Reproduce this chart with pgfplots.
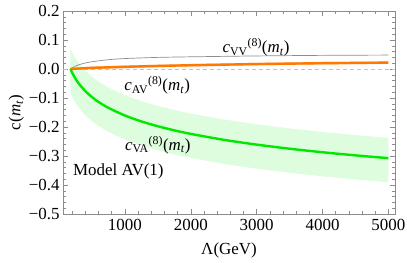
\documentclass[border=0pt]{standalone}
\usepackage{pgfplots}
\pgfplotsset{compat=1.18}
\usepgfplotslibrary{fillbetween}
\usepackage{fontspec}
\setmainfont{Liberation Serif}
\definecolor{gline}{RGB}{0,232,0}
\definecolor{gband}{RGB}{222,252,222}
\definecolor{oline}{RGB}{255,120,0}
\definecolor{oband}{RGB}{255,205,170}
\definecolor{frame}{RGB}{140,140,140}
\begin{document}
\begin{tikzpicture}[font=\fontsize{17}{20}\selectfont]
\begin{axis}[name=ax,
  scale only axis, width=332bp, height=203bp,
  xmin=60, xmax=5100, ymin=-0.5, ymax=0.2,
  axis line style={frame, line width=0.6pt},
  tick style={frame, line width=0.5pt},
  major tick length=5bp, minor tick length=2.8bp,
  tick align=inside,
  xtick={1000,2000,3000,4000,5000},
  xticklabels={1000,2000,3000,4000,5000},
  minor xtick={200,400,600,800,1200,1400,1600,1800,2200,2400,2600,2800,3200,3400,3600,3800,4200,4400,4600,4800},
  ytick={-0.5,-0.4,-0.3,-0.2,-0.1,0,0.1,0.2},
  yticklabels={−0.5,−0.4,−0.3,−0.2,−0.1,0.0,0.1,0.2},
  minor ytick={-0.48,-0.46,-0.44,-0.42,-0.38,-0.36,-0.34,-0.32,-0.28,-0.26,-0.24,-0.22,-0.18,-0.16,-0.14,-0.12,-0.08,-0.06,-0.04,-0.02,0.02,0.04,0.06,0.08,0.12,0.14,0.16,0.18},
  tick label style={font=\fontsize{17}{20}\selectfont},
  xticklabel style={yshift=-2bp},
  xlabel={Λ(GeV)},
  ylabel={c(\textit{m}\textsubscript{\textit{t}})},
  xlabel style={yshift=-5bp},
  ylabel style={yshift=-2bp},
  clip=true,
]
% green band
\addplot[name path=gup, draw=none] coordinates {
(173,0.070) (200,0.0567) (250,0.0364) (300,0.0197) (400,-0.0066) (500,-0.0270) (600,-0.0437) (750,-0.0641) (1000,-0.0904) (1250,-0.1108) (1500,-0.1275) (1750,-0.1416) (2000,-0.1538) (2500,-0.1742) (3000,-0.1908) (3500,-0.2049) (4000,-0.2171) (4500,-0.2279) (5000,-0.2375)};
\addplot[name path=glo, draw=none] coordinates {
(173,-0.083) (200,-0.0963) (250,-0.1166) (300,-0.1333) (400,-0.1596) (500,-0.1800) (600,-0.1967) (750,-0.2171) (1000,-0.2434) (1250,-0.2638) (1500,-0.2805) (1750,-0.2946) (2000,-0.3068) (2500,-0.3272) (3000,-0.3438) (3500,-0.3579) (4000,-0.3701) (4500,-0.3809) (5000,-0.3905)};
\addplot[gband] fill between[of=gup and glo];
% zero dashed line
\addplot[draw={rgb,255:red,195;green,195;blue,195}, dash pattern=on 4bp off 3bp, line width=0.6pt] coordinates {(60,0) (5100,0)};
% orange band
\addplot[name path=oup, draw=none] coordinates {(173,0.004) (500,0.0085) (1000,0.012) (1500,0.015) (2000,0.0175) (2500,0.0195) (3000,0.0215) (3500,0.023) (4000,0.0245) (4500,0.0255) (5000,0.0265)};
\addplot[name path=olo, draw=none] coordinates {(173,-0.004) (500,-0.0005) (1000,0.003) (1500,0.006) (2000,0.0085) (2500,0.0105) (3000,0.0125) (3500,0.014) (4000,0.0155) (4500,0.0165) (5000,0.0175)};
\addplot[oband] fill between[of=oup and olo];
% gray line
\addplot[draw={rgb,255:red,140;green,140;blue,140}, line width=0.7pt, smooth] coordinates {
(173,0) (250,0.010) (350,0.018) (500,0.025) (750,0.032) (1000,0.036) (1500,0.040) (2000,0.042) (3000,0.045) (4000,0.047) (5000,0.048)};
% orange line
\addplot[oline, line width=2.4bp] coordinates {(173,0) (500,0.004) (1000,0.0075) (1500,0.0105) (2000,0.013) (2500,0.015) (3000,0.017) (3500,0.0185) (4000,0.020) (4500,0.021) (5000,0.022)};
% green line
\addplot[gline, line width=2.4bp, smooth] coordinates {
(173,0) (200,-0.0133) (250,-0.0336) (300,-0.0503) (400,-0.0766) (500,-0.0970) (600,-0.1137) (750,-0.1341) (1000,-0.1604) (1250,-0.1808) (1500,-0.1975) (1750,-0.2116) (2000,-0.2238) (2500,-0.2442) (3000,-0.2608) (3500,-0.2749) (4000,-0.2871) (4500,-0.2979) (5000,-0.3075)};
\node at (axis cs:2990,0.074) {\textit{c}\textsubscript{VV}\textsuperscript{(8)}(\textit{m}\textsubscript{\textit{t}})};
\node at (axis cs:1490,-0.056) {\textit{c}\textsubscript{AV}\textsuperscript{(8)}(\textit{m}\textsubscript{\textit{t}})};
\node at (axis cs:1500,-0.262) {\textit{c}\textsubscript{VA}\textsuperscript{(8)}(\textit{m}\textsubscript{\textit{t}})};
\node[anchor=west, inner sep=0pt] at (axis cs:210,-0.352) {Model AV(1)};
\end{axis}
\pgfresetboundingbox
\path ([shift={(-63bp,-49bp)}]ax.south west) rectangle ([shift={(12bp,11bp)}]ax.north east);
\end{tikzpicture}
\end{document}
